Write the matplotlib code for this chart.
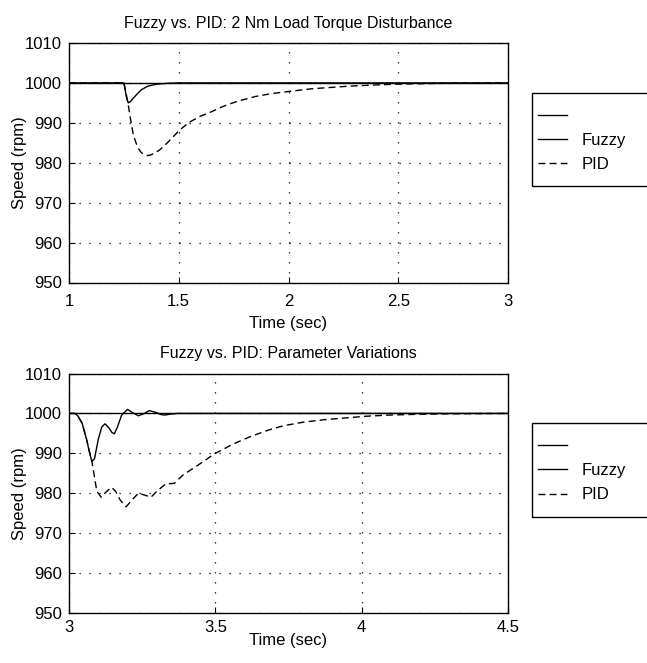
import matplotlib
matplotlib.use("Agg")
import matplotlib.pyplot as plt
from matplotlib.lines import Line2D
from matplotlib.patches import Rectangle

# load torque disturbance run
t_load_fuzzy = [1.0, 1.25, 1.255, 1.262, 1.27, 1.28, 1.295, 1.31, 1.33, 1.36, 1.4, 1.45, 1.5, 3.0]
w_load_fuzzy = [1000, 1000, 998.5, 996.3, 995.0, 995.3, 996.3, 997.2, 998.3, 999.2, 999.7, 999.9, 1000, 1000]

t_load_pid = [1.0, 1.25, 1.26, 1.27, 1.28, 1.293, 1.305, 1.316, 1.33, 1.345, 1.357, 1.37, 1.39,
              1.415, 1.45, 1.506, 1.55, 1.6, 1.642, 1.688, 1.73, 1.78, 1.85, 1.92, 2.007, 2.1,
              2.2, 2.28, 2.4, 2.5, 2.7, 3.0]
w_load_pid = [1000, 1000, 997.5, 994.5, 991.0, 987.0, 985.0, 983.6, 982.5, 982.0, 981.8, 981.9, 982.4,
              983.3, 985.1, 988.3, 990.2, 991.7, 992.6, 993.8, 994.7, 995.6, 996.6, 997.3, 997.9, 998.5,
              998.9, 999.2, 999.5, 999.7, 999.9, 1000]

# parameter variation run
t_par_fuzzy = [3.0, 3.02, 3.03, 3.045, 3.06, 3.07, 3.078, 3.087, 3.1, 3.112, 3.123, 3.135, 3.147,
               3.155, 3.165, 3.18, 3.2, 3.215, 3.237, 3.255, 3.274, 3.295, 3.315, 3.328, 3.345, 3.37, 4.5]
w_par_fuzzy = [1000, 1000, 999.4, 997.5, 993.5, 990.3, 988.0, 988.6, 993.5, 996.6, 997.4, 996.5, 995.2,
               994.9, 996.5, 999.6, 1001.0, 1000.3, 999.4, 999.9, 1000.7, 1000.3, 999.7, 999.6, 999.8, 1000, 1000]

t_par_pid = [3.0, 3.02, 3.03, 3.045, 3.06, 3.07, 3.078, 3.085, 3.095, 3.11, 3.125, 3.145, 3.16, 3.175,
             3.195, 3.215, 3.237, 3.26, 3.28, 3.3, 3.33, 3.36, 3.39, 3.44, 3.5, 3.56, 3.62, 3.68, 3.732,
             3.8, 3.868, 3.95, 4.017, 4.1, 4.2, 4.3, 4.5]
w_par_pid = [1000, 1000, 999.4, 997.5, 993.5, 990.3, 988.0, 985.0, 980.5, 979.0, 980.2, 981.5, 980.4, 978.3,
             976.6, 978.3, 980.0, 979.5, 979.0, 980.5, 982.3, 982.5, 984.6, 987.0, 990.0, 992.3, 994.2, 995.8,
             996.9, 997.8, 998.4, 998.9, 999.3, 999.6, 999.8, 999.9, 1000]

w_ref = 1000
y_ticks = [950, 960, 970, 980, 990, 1000, 1010]
x_ticks_load = [1, 1.5, 2, 2.5, 3]
x_ticks_par = [3, 3.5, 4, 4.5]

plt.rcParams['font.family'] = ['Liberation Sans', 'DejaVu Sans']
plt.rcParams['font.size'] = 12

W, H = 647, 663
fig = plt.figure(figsize=(W / 100, H / 100), dpi=100)

# bottom edge (px), title, curves, ticks, tick pad, xlabel pad
panels = [
    (282.5, 'Fuzzy vs. PID: 2 Nm Load Torque Disturbance', t_load_fuzzy, w_load_fuzzy,
     t_load_pid, w_load_pid, x_ticks_load, ['1', '1.5', '2', '2.5', '3'], 8, 5),
    (613.0, 'Fuzzy vs. PID: Parameter Variations', t_par_fuzzy, w_par_fuzzy,
     t_par_pid, w_par_pid, x_ticks_par, ['3', '3.5', '4', '4.5'], 5, -1.5),
]

for bottom_px, title, tf, wf, tp, wp, xt, xtl, tpad, lpad in panels:
    ax = fig.add_axes([69 / W, 1 - bottom_px / H, 439 / W, 239.5 / H])
    x0, x1 = xt[0], xt[-1]
    ax.plot([x0, x1], [w_ref, w_ref], color='black', lw=1.0)
    ax.plot(tf, wf, color='black', lw=1.0)
    ax.plot(tp, wp, color='black', lw=1.0, dashes=(5, 3))
    ax.set_xlim(x0, x1)
    ax.set_ylim(950, 1010)
    ax.set_xticks(xt)
    ax.set_xticklabels(xtl)
    ax.set_yticks(y_ticks)
    ax.tick_params(direction='in', length=4, width=0.8, labelsize=12)
    ax.tick_params(axis='x', pad=tpad)
    ax.tick_params(axis='y', pad=5)
    ax.grid(True, color='black', linestyle=(0, (1, 7)), linewidth=0.9)
    for s in ax.spines.values():
        s.set_linewidth(1.0)
    ax.set_title(title, fontsize=11.5, pad=11)
    ax.set_xlabel('Time (sec)', fontsize=12, labelpad=lpad)
    ax.set_ylabel('Speed (rpm)', fontsize=12)
    ax.yaxis.set_label_coords(-0.096, 0.5)

    # legend box runs off the right edge of the figure
    top_px = bottom_px - 239.5 + 49.6
    fig.add_artist(Rectangle((532 / W, 1 - (top_px + 93.7) / H), 0.3, 93.7 / H,
                             transform=fig.transFigure, fill=False, lw=1.0, color='black'))
    handles = [Line2D([], [], color='black', lw=1.0),
               Line2D([], [], color='black', lw=1.0),
               Line2D([], [], color='black', lw=1.0, dashes=(5, 3))]
    fig.legend(handles, ['', 'Fuzzy', 'PID'], loc='upper left',
               bbox_to_anchor=(538 / W, 1 - (top_px + 16) / H), frameon=False,
               borderpad=0, borderaxespad=0, handlelength=1.75, handletextpad=0.85,
               labelspacing=0.55, fontsize=12)

fig.savefig('out.png', dpi=100)
